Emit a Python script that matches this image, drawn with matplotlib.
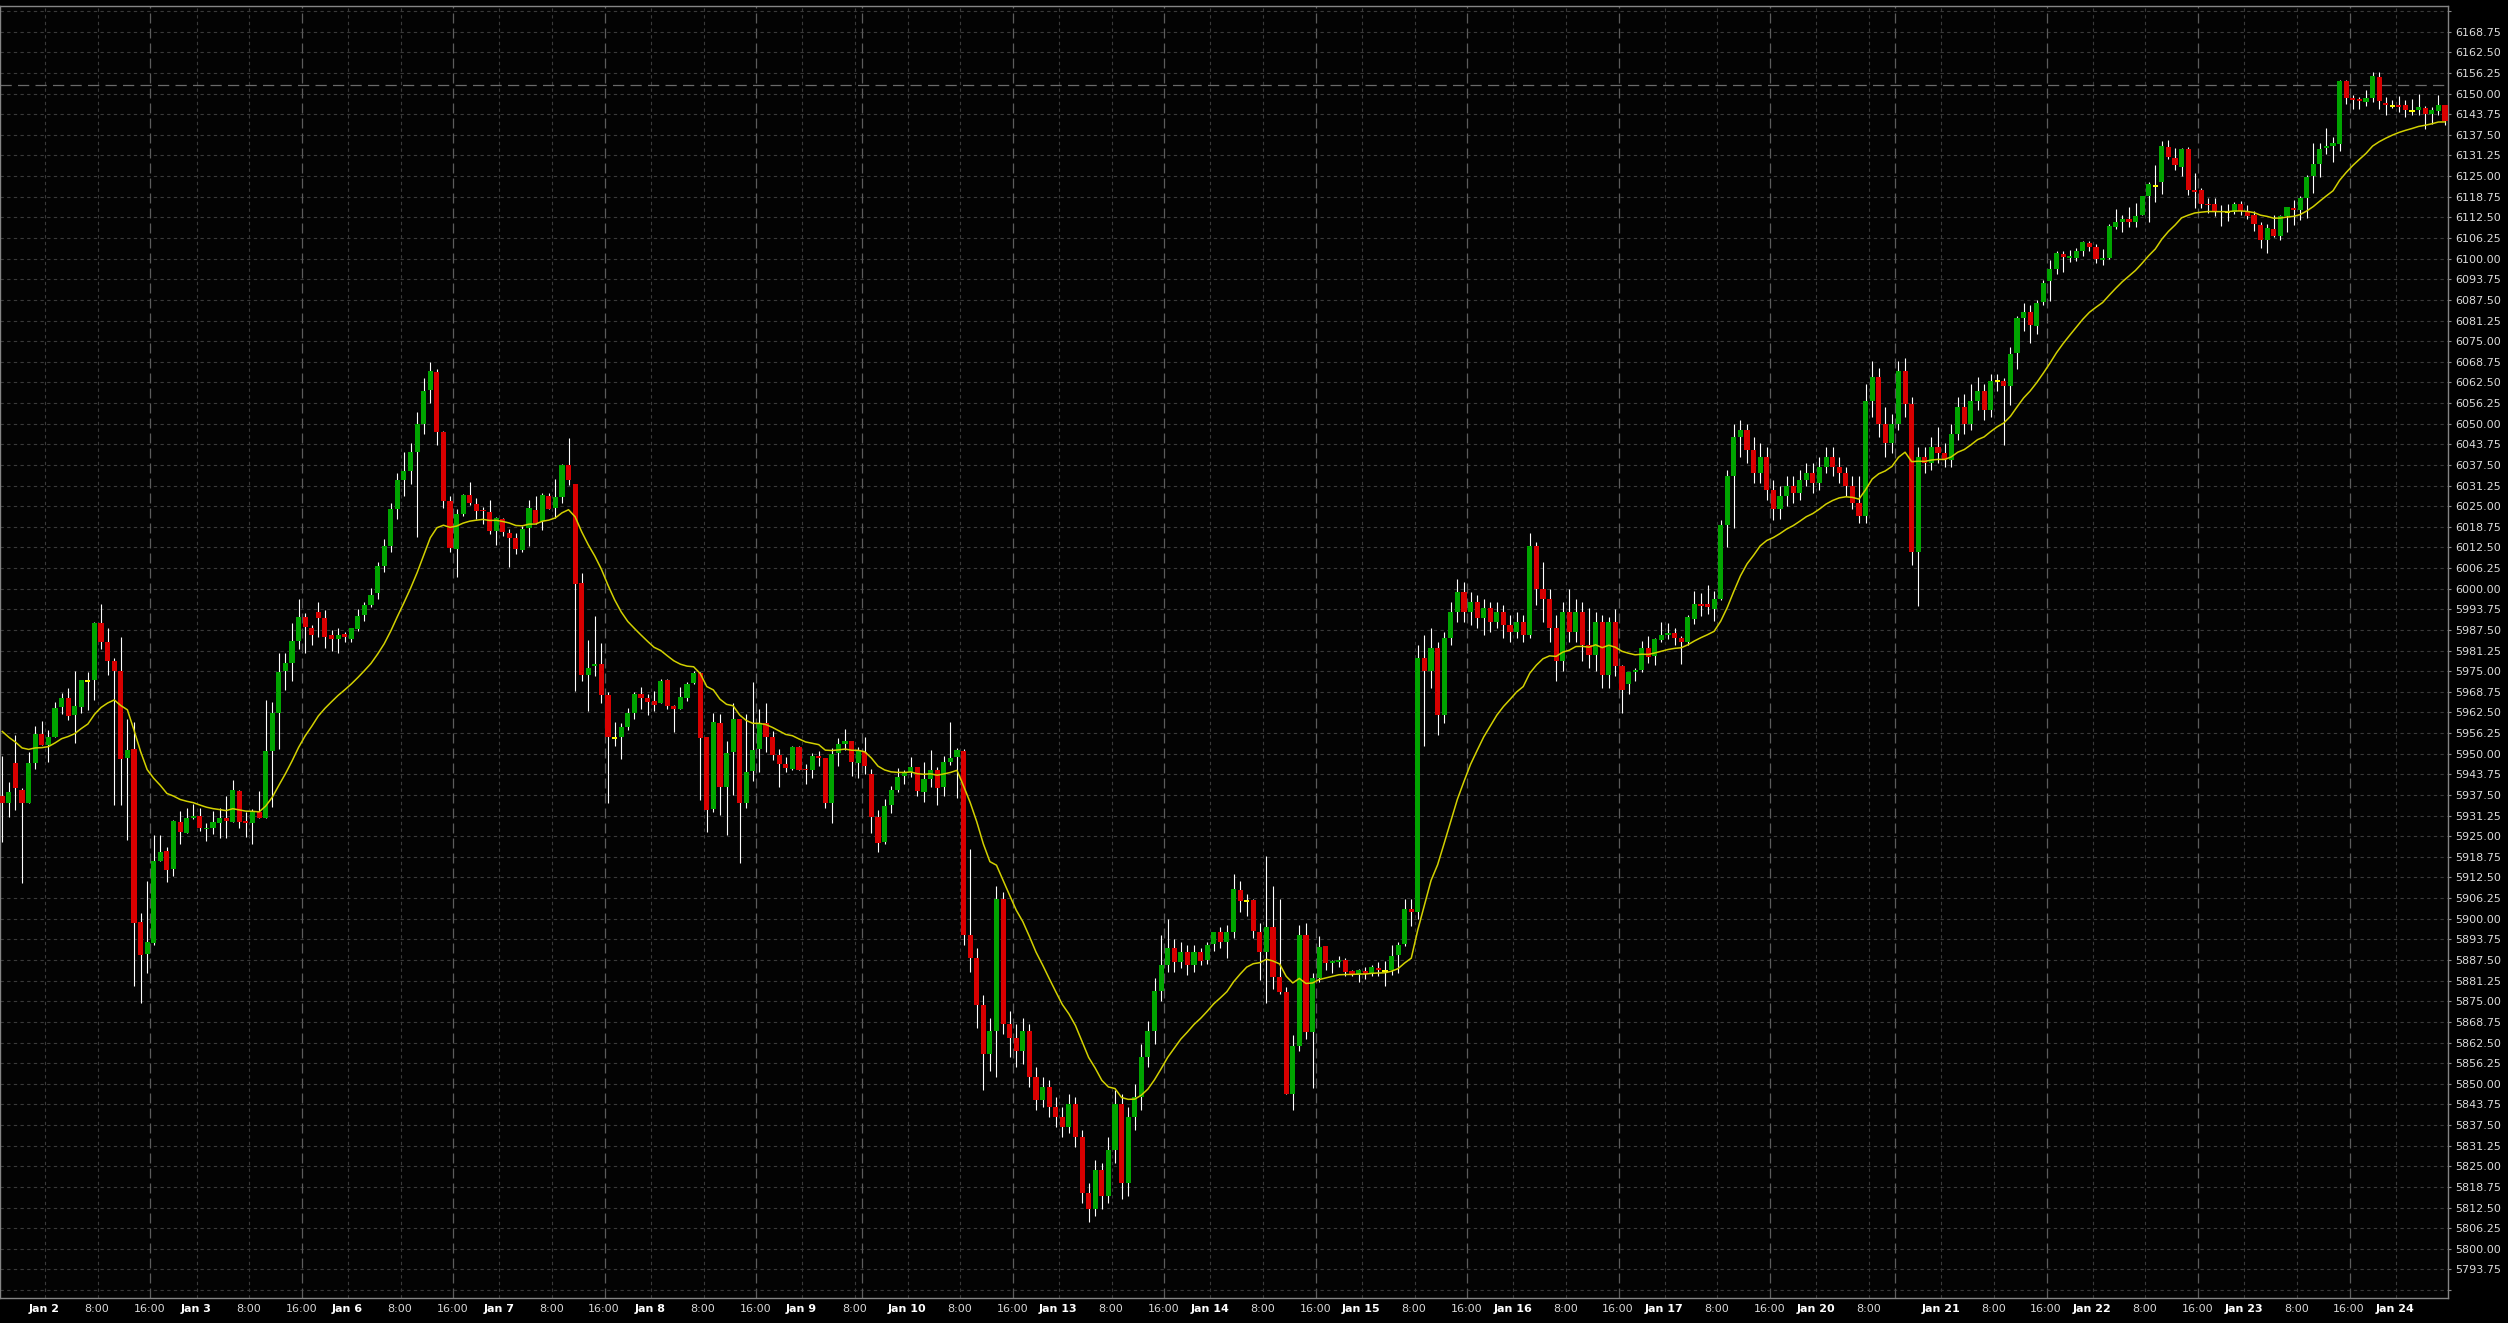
import numpy as np
import pandas as pd
import matplotlib
matplotlib.use('Agg')
import matplotlib.pyplot as plt

# hourly candles, Jan 1 18:00 .. Jan 24 8:00 (index = bar number)
opens = [
    5937.2, 5935.2, 5947.1, 5939.0, 5935.0, 5947.1, 5956.0, 5952.7, 5955.2, 5964.3,
    5966.8, 5961.7, 5964.3, 5972.1, 5972.3, 5989.5, 5984.0, 5978.1, 5975.1, 5948.8,
    5951.4, 5899.0, 5889.3, 5892.8, 5917.5, 5920.5, 5915.0, 5929.2, 5926.1, 5930.4,
    5931.1, 5927.1, 5927.6, 5929.1, 5930.4, 5929.4, 5938.7, 5929.6, 5929.1, 5932.2,
    5930.6, 5950.8, 5962.4, 5975.1, 5977.6, 5984.3, 5991.3, 5988.0, 5993.0, 5991.0,
    5986.0, 5984.7, 5986.3, 5984.8, 5987.8, 5992.0, 5995.1, 5998.6, 6006.9, 6013.0,
    6024.0, 6032.9, 6035.7, 6041.4, 6049.8, 6060.2, 6065.6, 6047.4, 6026.6, 6012.0,
    6022.7, 6028.4, 6025.6, 6023.8, 6023.2, 6017.4, 6021.1, 6016.9, 6015.4, 6011.7,
    6018.5, 6023.9, 6020.6, 6028.1, 6024.4, 6027.9, 6037.5, 6031.7, 6001.6, 5973.9,
    5976.5, 5977.1, 5967.9, 5954.9, 5955.2, 5958.2, 5962.4, 5968.2, 5966.8, 5966.1,
    5965.3, 5972.3, 5964.4, 5963.7, 5966.8, 5971.5, 5974.5, 5955.1, 5933.3, 5959.3,
    5939.9, 5950.4, 5960.4, 5935.0, 5944.7, 5951.4, 5959.3, 5955.1, 5949.6, 5946.8,
    5945.5, 5951.9, 5945.5, 5945.2, 5949.3, 5948.8, 5935.2, 5950.3, 5952.8, 5953.9,
    5947.3, 5950.6, 5943.9, 5930.9, 5923.3, 5934.4, 5939.0, 5943.3, 5944.4, 5946.1,
    5938.5, 5942.3, 5945.1, 5940.0, 5947.6, 5949.1, 5950.8, 5895.0, 5888.0, 5874.0,
    5859.0, 5866.0, 5906.0, 5868.0, 5864.0, 5860.0, 5866.0, 5852.0, 5845.0, 5849.0,
    5843.0, 5840.0, 5837.0, 5844.0, 5834.0, 5817.0, 5812.0, 5824.0, 5816.0, 5830.0,
    5844.0, 5820.0, 5840.0, 5846.0, 5858.0, 5866.0, 5878.0, 5886.0, 5891.0, 5887.0,
    5890.0, 5886.0, 5889.8, 5887.5, 5892.4, 5895.9, 5893.1, 5896.1, 5908.7, 5905.5,
    5905.6, 5895.9, 5889.8, 5897.4, 5882.3, 5877.8, 5847.0, 5861.4, 5895.0, 5865.8,
    5882.0, 5891.7, 5886.7, 5887.0, 5887.5, 5884.1, 5883.1, 5884.1, 5883.3, 5885.1,
    5884.2, 5884.4, 5889.1, 5892.4, 5903.0, 5901.9, 5979.0, 5975.0, 5982.0, 5961.6,
    5985.0, 5993.0, 5999.0, 5993.0, 5996.0, 5991.0, 5994.0, 5990.0, 5993.0, 5989.0,
    5987.0, 5990.0, 5986.0, 6013.0, 6000.0, 5997.0, 5988.0, 5978.0, 5993.0, 5987.0,
    5993.0, 5983.0, 5980.0, 5989.8, 5973.9, 5989.8, 5976.5, 5971.2, 5974.7, 5975.4,
    5982.0, 5979.7, 5984.5, 5986.0, 5986.6, 5985.2, 5983.9, 5990.9, 5995.3, 5995.3,
    5993.9, 5997.0, 6019.4, 6034.0, 6046.0, 6048.0, 6042.0, 6035.0, 6040.0, 6030.0,
    6024.0, 6028.0, 6031.0, 6029.0, 6033.0, 6035.0, 6032.0, 6037.0, 6040.0, 6037.0,
    6035.0, 6031.0, 6026.0, 6022.0, 6057.0, 6064.0, 6050.0, 6044.0, 6050.0, 6066.0,
    6056.0, 6011.2, 6040.0, 6038.0, 6043.0, 6041.0, 6039.0, 6047.0, 6055.0, 6050.0,
    6057.0, 6060.0, 6054.0, 6062.9, 6063.0, 6061.3, 6071.5, 6082.0, 6083.9, 6079.7,
    6087.0, 6093.1, 6096.8, 6101.4, 6100.3, 6100.3, 6102.4, 6104.7, 6103.6, 6099.7,
    6100.3, 6109.7, 6111.2, 6111.9, 6111.0, 6113.2, 6119.1, 6122.1, 6123.1, 6133.9,
    6130.5, 6127.9, 6133.2, 6120.7, 6120.7, 6116.5, 6116.5, 6114.5, 6114.1, 6114.1,
    6116.5, 6114.1, 6113.2, 6110.3, 6105.6, 6108.9, 6106.9, 6112.8, 6115.2, 6114.6,
    6118.5, 6125.0, 6128.7, 6133.4, 6134.2, 6134.7, 6153.8, 6148.8, 6148.4, 6147.6,
    6148.8, 6154.9, 6147.3, 6146.3, 6146.5, 6146.5, 6144.8, 6145.0, 6145.7, 6143.8,
    6144.8, 6146.5,
]
highs = [
    5949.3, 5941.3, 5955.7, 5939.7, 5950.6, 5958.5, 5959.9, 5957.2, 5965.8, 5968.3,
    5969.8, 5975.1, 5972.3, 5974.9, 5990.0, 5995.4, 5988.0, 5978.9, 5985.3, 5960.4,
    5959.5, 5901.8, 5911.4, 5925.4, 5925.4, 5921.8, 5929.9, 5932.7, 5933.5, 5934.7,
    5933.5, 5928.9, 5932.7, 5933.5, 5937.3, 5942.0, 5939.0, 5932.4, 5933.2, 5938.8,
    5966.3, 5965.6, 5980.6, 5980.4, 5989.5, 5996.8, 5992.7, 5989.0, 5996.1, 5993.5,
    5987.5, 5988.0, 5987.0, 5988.0, 5993.8, 5996.1, 6000.1, 6008.2, 6015.0, 6026.0,
    6035.0, 6041.4, 6044.1, 6053.4, 6063.9, 6068.6, 6066.5, 6047.7, 6028.1, 6024.2,
    6028.7, 6032.4, 6027.4, 6024.8, 6026.8, 6021.6, 6021.4, 6018.0, 6016.9, 6019.0,
    6026.8, 6028.1, 6028.9, 6028.9, 6033.1, 6037.8, 6045.6, 6031.7, 6004.7, 5984.6,
    5991.6, 5983.5, 5968.7, 5959.7, 5959.2, 5963.9, 5968.7, 5970.2, 5968.2, 5968.9,
    5972.6, 5972.6, 5964.9, 5970.3, 5971.7, 5975.2, 5974.7, 5955.1, 5962.4, 5962.1,
    5953.8, 5965.3, 5960.6, 5962.1, 5971.7, 5963.4, 5965.3, 5956.9, 5951.4, 5949.1,
    5952.2, 5952.2, 5946.8, 5950.2, 5950.7, 5948.8, 5951.6, 5954.7, 5957.5, 5953.9,
    5951.9, 5955.2, 5945.4, 5932.9, 5936.3, 5940.2, 5945.6, 5945.1, 5948.9, 5946.1,
    5947.4, 5951.1, 5946.1, 5949.3, 5959.5, 5951.6, 5951.5, 5921.0, 5891.0, 5877.0,
    5870.0, 5910.0, 5908.0, 5872.0, 5868.0, 5870.0, 5868.0, 5855.0, 5852.0, 5851.0,
    5846.0, 5843.0, 5847.0, 5846.0, 5836.0, 5820.0, 5827.0, 5826.0, 5834.0, 5848.0,
    5847.0, 5843.0, 5850.0, 5862.0, 5869.0, 5882.0, 5895.0, 5900.0, 5894.0, 5893.0,
    5892.0, 5892.0, 5891.0, 5892.9, 5895.9, 5897.6, 5898.0, 5913.6, 5911.3, 5907.5,
    5906.1, 5898.7, 5919.0, 5909.9, 5906.0, 5879.2, 5864.8, 5898.2, 5898.7, 5883.5,
    5894.8, 5891.7, 5887.5, 5888.6, 5888.0, 5884.6, 5884.9, 5885.4, 5885.9, 5887.0,
    5887.2, 5891.9, 5892.9, 5906.1, 5906.1, 5983.0, 5986.0, 5988.0, 5984.0, 5987.0,
    5996.0, 6003.0, 6002.0, 5999.0, 5998.0, 5997.0, 5996.0, 5996.0, 5995.0, 5992.0,
    5993.0, 5992.0, 6017.0, 6014.0, 6008.0, 6000.0, 5992.0, 5996.0, 6000.0, 5997.0,
    5996.0, 5994.0, 5993.0, 5992.0, 5991.3, 5993.8, 5976.8, 5974.8, 5976.0, 5984.1,
    5985.7, 5985.2, 5989.8, 5989.5, 5988.0, 5985.7, 5992.1, 5999.4, 5998.8, 6001.1,
    5999.4, 6020.8, 6036.0, 6050.0, 6051.0, 6050.0, 6046.0, 6044.0, 6043.0, 6033.0,
    6031.0, 6034.0, 6034.0, 6036.0, 6038.0, 6038.0, 6040.0, 6043.0, 6043.0, 6040.0,
    6037.0, 6034.0, 6034.0, 6062.0, 6069.0, 6067.0, 6055.0, 6053.0, 6069.0, 6070.0,
    6058.0, 6043.0, 6043.0, 6046.0, 6049.0, 6044.0, 6050.0, 6058.0, 6059.0, 6062.0,
    6064.0, 6062.0, 6065.0, 6065.0, 6063.7, 6073.2, 6082.7, 6086.7, 6085.9, 6087.6,
    6093.5, 6099.7, 6102.3, 6102.3, 6102.7, 6103.1, 6105.3, 6105.3, 6104.3, 6102.9,
    6110.6, 6114.9, 6113.2, 6115.6, 6116.8, 6119.1, 6123.3, 6128.3, 6135.5, 6135.8,
    6133.5, 6133.5, 6133.8, 6125.9, 6121.3, 6118.5, 6118.5, 6116.2, 6116.5, 6117.1,
    6117.5, 6116.2, 6114.5, 6111.2, 6110.6, 6113.2, 6113.2, 6115.6, 6117.8, 6119.1,
    6125.4, 6135.1, 6135.1, 6139.5, 6136.8, 6154.1, 6154.1, 6149.5, 6148.9, 6151.0,
    6156.6, 6156.6, 6149.1, 6148.2, 6149.3, 6148.0, 6148.4, 6149.8, 6146.2, 6146.0,
    6149.6, 6146.5,
]
lows = [
    5923.4, 5930.9, 5933.1, 5910.7, 5935.0, 5945.4, 5952.7, 5947.6, 5955.2, 5962.0,
    5960.2, 5953.2, 5962.2, 5963.3, 5966.3, 5981.6, 5973.9, 5934.5, 5934.5, 5923.9,
    5879.6, 5874.6, 5883.7, 5892.0, 5917.5, 5911.2, 5913.0, 5922.6, 5926.1, 5930.2,
    5926.7, 5923.7, 5925.7, 5924.4, 5924.4, 5929.4, 5927.4, 5924.9, 5922.6, 5930.6,
    5930.6, 5934.0, 5951.4, 5969.3, 5972.1, 5981.6, 5980.6, 5982.9, 5985.5, 5981.9,
    5981.2, 5980.6, 5983.7, 5984.0, 5987.3, 5990.3, 5994.5, 5996.9, 6005.0, 6011.0,
    6021.0, 6028.2, 6031.7, 6015.7, 6047.0, 6056.4, 6043.5, 6024.4, 6011.2, 6003.6,
    6022.1, 6025.3, 6021.1, 6019.5, 6016.7, 6013.3, 6015.9, 6006.7, 6010.5, 6011.2,
    6012.8, 6019.5, 6017.7, 6024.2, 6021.3, 6026.1, 6031.3, 5969.1, 5971.9, 5962.9,
    5973.6, 5965.3, 5935.0, 5952.2, 5948.3, 5957.1, 5960.6, 5963.4, 5961.8, 5963.0,
    5965.3, 5963.7, 5956.7, 5963.5, 5966.0, 5971.0, 5936.1, 5926.3, 5932.2, 5931.4,
    5925.3, 5937.6, 5917.0, 5933.5, 5941.8, 5944.4, 5950.4, 5948.1, 5939.9, 5944.4,
    5945.0, 5945.0, 5940.8, 5942.6, 5946.3, 5933.6, 5929.1, 5946.4, 5951.1, 5943.2,
    5942.5, 5943.8, 5926.1, 5920.3, 5922.5, 5932.1, 5938.5, 5940.7, 5943.0, 5937.3,
    5935.5, 5940.0, 5934.4, 5937.3, 5946.6, 5936.7, 5892.0, 5884.0, 5867.0, 5848.0,
    5854.0, 5852.0, 5865.0, 5858.0, 5855.0, 5856.0, 5849.0, 5842.0, 5843.0, 5840.0,
    5837.0, 5834.0, 5835.0, 5831.0, 5814.0, 5808.0, 5810.0, 5812.0, 5814.0, 5826.0,
    5815.0, 5816.0, 5836.0, 5842.0, 5855.0, 5862.0, 5875.0, 5884.0, 5884.0, 5885.0,
    5883.0, 5884.0, 5886.0, 5886.2, 5890.1, 5891.0, 5888.0, 5894.3, 5901.9, 5900.8,
    5894.3, 5881.3, 5874.5, 5878.6, 5877.1, 5847.0, 5842.1, 5859.9, 5863.7, 5848.6,
    5880.7, 5884.4, 5883.7, 5885.4, 5882.8, 5882.8, 5880.9, 5881.6, 5882.8, 5882.8,
    5879.5, 5883.0, 5883.7, 5891.7, 5897.7, 5900.0, 5952.4, 5970.0, 5955.8, 5959.3,
    5983.0, 5990.0, 5990.0, 5989.0, 5988.0, 5986.0, 5987.0, 5988.0, 5985.0, 5984.0,
    5985.0, 5984.0, 5985.0, 5995.0, 5990.0, 5984.0, 5972.0, 5975.0, 5984.0, 5984.0,
    5978.0, 5976.0, 5975.0, 5970.0, 5970.0, 5973.6, 5962.3, 5968.1, 5972.1, 5974.8,
    5977.6, 5977.0, 5983.7, 5984.7, 5982.8, 5977.3, 5982.9, 5989.3, 5991.6, 5992.4,
    5990.1, 5996.5, 6012.7, 6018.3, 6040.0, 6038.0, 6032.0, 6032.0, 6027.0, 6020.8,
    6021.0, 6025.0, 6026.0, 6027.0, 6031.0, 6029.0, 6030.0, 6035.0, 6034.0, 6032.0,
    6028.0, 6024.0, 6020.0, 6020.0, 6052.0, 6046.0, 6040.0, 6041.0, 6048.0, 6052.0,
    6007.3, 5994.7, 6035.0, 6036.0, 6038.0, 6037.0, 6037.0, 6045.0, 6047.0, 6048.0,
    6054.0, 6051.0, 6052.0, 6060.0, 6043.6, 6055.7, 6066.6, 6078.0, 6074.5, 6077.1,
    6086.0, 6087.2, 6095.2, 6095.9, 6099.0, 6099.2, 6100.7, 6102.3, 6098.8, 6098.1,
    6099.8, 6109.0, 6108.0, 6109.7, 6109.7, 6113.2, 6111.0, 6117.1, 6119.5, 6130.3,
    6127.0, 6125.0, 6119.4, 6115.2, 6115.2, 6113.9, 6112.8, 6109.9, 6111.5, 6113.5,
    6113.2, 6111.9, 6108.3, 6103.1, 6101.8, 6106.6, 6105.7, 6108.0, 6110.3, 6111.6,
    6112.2, 6119.8, 6124.8, 6131.8, 6129.3, 6132.7, 6146.8, 6145.2, 6145.2, 6146.2,
    6147.6, 6145.2, 6143.5, 6145.5, 6144.5, 6143.0, 6143.5, 6143.5, 6139.3, 6140.8,
    6143.5, 6140.5,
]
closes = [
    5935.2, 5938.3, 5939.7, 5935.0, 5947.1, 5956.0, 5952.7, 5955.0, 5963.8, 5966.8,
    5961.5, 5964.5, 5972.3, 5972.1, 5989.5, 5984.0, 5978.1, 5975.1, 5948.4, 5951.1,
    5898.8, 5889.1, 5893.0, 5917.5, 5920.1, 5914.8, 5929.6, 5926.4, 5930.4, 5931.2,
    5927.6, 5927.6, 5929.2, 5930.4, 5929.6, 5939.0, 5929.4, 5929.1, 5932.2, 5930.6,
    5950.8, 5962.2, 5974.7, 5977.4, 5984.2, 5991.3, 5988.5, 5986.0, 5991.2, 5985.5,
    5984.7, 5986.0, 5985.3, 5988.0, 5991.7, 5995.1, 5998.1, 6006.9, 6013.0, 6024.0,
    6032.9, 6035.7, 6041.4, 6050.0, 6059.9, 6066.0, 6047.4, 6026.6, 6012.4, 6022.7,
    6028.4, 6026.1, 6023.5, 6023.4, 6017.4, 6021.3, 6017.1, 6015.4, 6011.9, 6018.2,
    6024.4, 6019.8, 6028.4, 6024.2, 6027.8, 6037.5, 6032.9, 6001.5, 5973.9, 5976.0,
    5977.1, 5967.9, 5955.2, 5954.9, 5958.2, 5962.4, 5968.2, 5967.0, 5965.8, 5964.9,
    5972.1, 5964.5, 5963.7, 5967.3, 5971.0, 5974.5, 5954.9, 5932.9, 5959.5, 5939.9,
    5950.2, 5960.4, 5935.0, 5944.4, 5951.0, 5959.2, 5955.2, 5949.6, 5947.0, 5945.7,
    5951.9, 5945.2, 5945.0, 5949.3, 5948.8, 5935.2, 5949.9, 5952.9, 5953.9, 5947.6,
    5950.8, 5946.4, 5930.7, 5923.0, 5934.1, 5939.0, 5942.8, 5944.1, 5945.9, 5938.8,
    5942.3, 5945.1, 5939.7, 5947.4, 5948.6, 5951.1, 5895.0, 5888.0, 5874.0, 5859.0,
    5866.0, 5906.0, 5868.0, 5864.0, 5860.0, 5866.0, 5852.0, 5845.0, 5849.0, 5843.0,
    5840.0, 5837.0, 5844.0, 5834.0, 5817.0, 5812.0, 5824.0, 5816.0, 5830.0, 5844.0,
    5820.0, 5840.0, 5846.0, 5858.0, 5866.0, 5878.0, 5886.0, 5891.0, 5887.0, 5890.0,
    5886.0, 5889.8, 5887.3, 5892.2, 5895.9, 5893.1, 5895.9, 5908.9, 5905.5, 5905.5,
    5896.2, 5889.8, 5897.4, 5882.3, 5877.8, 5847.0, 5861.4, 5895.0, 5865.8, 5882.0,
    5891.4, 5886.7, 5887.2, 5887.5, 5883.9, 5883.3, 5884.4, 5883.3, 5885.4, 5884.6,
    5884.2, 5888.8, 5892.2, 5903.0, 5901.9, 5979.0, 5975.0, 5982.0, 5961.6, 5985.0,
    5993.0, 5999.0, 5993.0, 5996.0, 5991.0, 5994.0, 5990.0, 5993.0, 5989.0, 5987.0,
    5990.0, 5986.0, 6013.0, 6000.0, 5997.0, 5988.0, 5978.0, 5993.0, 5987.0, 5993.0,
    5983.0, 5980.0, 5989.8, 5973.9, 5989.8, 5976.5, 5969.4, 5974.8, 5975.4, 5982.0,
    5979.4, 5984.8, 5986.0, 5986.6, 5985.2, 5983.9, 5991.3, 5995.3, 5994.8, 5994.6,
    5996.8, 6019.4, 6034.0, 6046.0, 6048.0, 6042.0, 6035.0, 6040.0, 6030.0, 6024.0,
    6028.0, 6031.0, 6029.0, 6033.0, 6035.0, 6032.0, 6037.0, 6040.0, 6037.0, 6035.0,
    6031.0, 6026.0, 6022.0, 6057.0, 6064.0, 6050.0, 6044.0, 6050.0, 6066.0, 6056.0,
    6011.2, 6040.0, 6038.0, 6043.0, 6041.0, 6039.0, 6047.0, 6055.0, 6050.0, 6057.0,
    6060.0, 6054.0, 6062.9, 6062.9, 6061.3, 6071.2, 6082.0, 6083.7, 6080.0, 6086.7,
    6092.5, 6096.8, 6101.7, 6100.5, 6100.7, 6102.3, 6104.9, 6103.6, 6099.8, 6100.3,
    6109.9, 6111.0, 6111.9, 6111.0, 6112.8, 6119.1, 6122.7, 6122.1, 6134.2, 6130.7,
    6128.3, 6133.2, 6120.8, 6120.2, 6116.5, 6116.1, 6114.1, 6114.0, 6114.1, 6116.5,
    6114.5, 6112.9, 6110.6, 6105.7, 6109.3, 6107.0, 6112.8, 6115.6, 6114.6, 6118.5,
    6124.8, 6128.6, 6133.2, 6134.2, 6135.1, 6153.8, 6148.8, 6148.2, 6147.7, 6148.8,
    6155.3, 6147.9, 6146.6, 6146.3, 6145.9, 6145.0, 6144.8, 6146.0, 6143.8, 6145.0,
    6146.5, 6141.8,
]

# time scale: bar number of each labelled hour
date_labels = ['Jan 2', 'Jan 3', 'Jan 6', 'Jan 7', 'Jan 8', 'Jan 9', 'Jan 10', 'Jan 13', 'Jan 14',
               'Jan 15', 'Jan 16', 'Jan 17', 'Jan 20', 'Jan 21', 'Jan 22', 'Jan 23', 'Jan 24']
date_bars = [6, 29, 52, 75, 98, 121, 137, 160, 183, 206, 229, 252, 275, 294, 317, 340, 363]
bars_8h = [14, 37, 60, 83, 106, 129, 145, 168, 191, 214, 237, 260, 283, 302, 325, 348]
bars_16h = [22, 45, 68, 91, 114, 153, 176, 199, 222, 245, 268, 310, 333, 356]
session_end = [22, 45, 68, 91, 114, 130, 153, 176, 199, 222, 245, 268, 287, 310, 333, 356]

ma_seed = 5959.0      # moving average value just before the first bar
last_price = 6152.5   # dashed price line

o = np.array(opens)
h = np.array(highs)
l = np.array(lows)
c = np.array(closes)
x = np.arange(len(c))

fig = plt.figure(figsize=(25.08, 13.23), dpi=100, facecolor='black')
ax = fig.add_axes([0, 25 / 1323, 2448 / 2508, 1292 / 1323])
ax.set_facecolor('#030303')

yt = np.arange(5787.5, 6175.01, 6.25)
for y in yt:
    ax.axhline(y, color='#3a3a3a', lw=0.8, ls=(0, (3, 3)), zorder=0)
for b in date_bars + bars_8h:
    ax.axvline(b + 0.5, color='#3a3a3a', lw=0.8, ls=(0, (3, 3)), zorder=0)
for b in session_end:
    ax.axvline(b + 0.5, color='#5c5c5c', lw=0.9, ls=(0, (8, 4)), zorder=0)
ax.axhline(last_price, color='#6a6a6a', lw=0.9, ls=(0, (9, 5)), zorder=1)

# candles
ax.vlines(x, l, h, color='white', lw=0.8, zorder=2)
up = c > o
dn = c < o
flat = c == o
ax.bar(x[up], np.maximum(c[up] - o[up], 0.45), bottom=o[up], width=0.78,
       color='#00a400', lw=0, zorder=3)
ax.bar(x[dn], np.maximum(o[dn] - c[dn], 0.45), bottom=c[dn], width=0.78,
       color='#d80000', lw=0, zorder=3)
ax.hlines(c[flat], x[flat] - 0.39, x[flat] + 0.39, color='#ffff00', lw=1.4, zorder=3)

ema = pd.Series([ma_seed] + closes).ewm(span=20, adjust=False).mean().values[1:]
ax.plot(x, ema, color='#d2d000', lw=1.1, zorder=4)

ax.set_xlim(-0.35, 371.46)
ax.set_ylim(5785.1, 6176.54)

ax.yaxis.tick_right()
ax.set_yticks(yt)
ax.set_yticklabels(['%.2f' % v if 5793 < v < 6169 else '' for v in yt])
ax.tick_params(axis='y', colors='#8a8a8a', labelcolor='#dcdcdc', labelsize=8,
               length=2.5, width=0.8, pad=2.5)

pos = date_bars + bars_8h + bars_16h
labs = date_labels + ['8:00'] * len(bars_8h) + ['16:00'] * len(bars_16h)
ax.set_xticks([p + 0.4 for p in pos])
ax.set_xticklabels(labs)
ax.tick_params(axis='x', length=0, pad=4, labelsize=8, labelcolor='#d8d8d8')
for t in ax.get_xticklabels():
    if t.get_text().startswith('Jan'):
        t.set_fontweight('bold')
        t.set_color('white')

for s in ax.spines.values():
    s.set_color('#858585')
    s.set_linewidth(1.0)

fig.savefig('out.png', dpi=100, facecolor='black')
